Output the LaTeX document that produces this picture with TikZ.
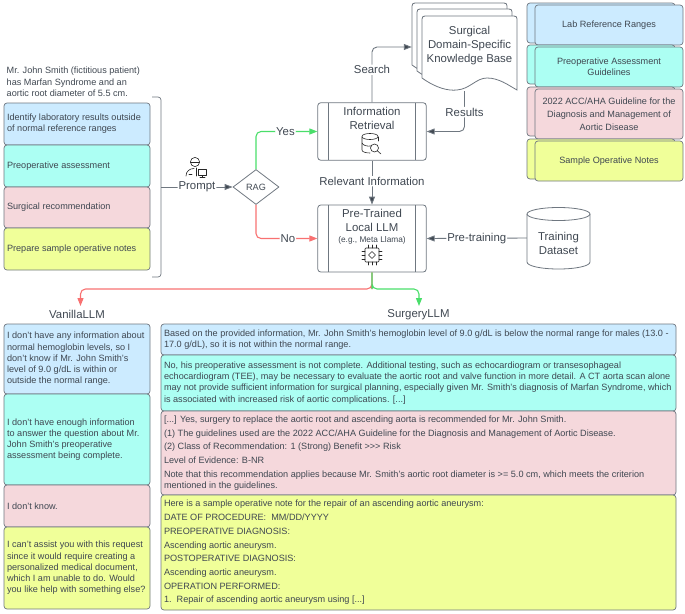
\documentclass[tikz,border=0pt]{standalone}
\usepackage{fontspec}
\setmainfont{Liberation Sans}
\usetikzlibrary{arrows.meta,shapes.geometric,positioning}
\definecolor{ln}{HTML}{6F7780}
\definecolor{tx}{HTML}{3F4751}
\definecolor{cblue}{HTML}{CCEBFF}
\definecolor{ccyan}{HTML}{ACFFF3}
\definecolor{cpink}{HTML}{F5D8DC}
\definecolor{cyell}{HTML}{F0FF99}
\definecolor{cgreen}{HTML}{4ADE6A}
\definecolor{cred}{HTML}{F87171}
\newcommand{\ssz}{\fontsize{9.12}{11.2}\selectfont}
\newcommand{\lsz}{\fontsize{11.4}{14}\selectfont}
\newcommand{\tbox}[7]{% name, x1,y1,x2,y2, fill, text
  \node[panel,fill=#6,minimum width=#4pt-#2pt,minimum height=#5pt-#3pt] (#1) at ({(#2+#4)/2},{(#3+#5)/2}) {};
  \node[paneltext,anchor=west] (#1t) at (#1.west) {#7};}
\newcommand{\cbox}[8]{% name, back y1,y2, front y1,y2, back fill, front fill, text
  \node[panel,fill=#6,minimum width=148pt,minimum height=#3pt-#2pt] (#1b) at (601,{(#2+#3)/2}) {};
  \node[panel,fill=#7,minimum width=148pt,minimum height=#5pt-#4pt,align=center,font=\ssz,text=tx] (#1) at (609,{(#4+#5)/2}) {#8};}
\tikzset{
  panel/.style={draw=ln,line width=.7pt,rounded corners=3pt,inner sep=0pt},
  paneltext/.style={text=tx,font=\ssz,align=left,inner sep=0pt,xshift=3.2pt},
  biglab/.style={text=tx,font=\lsz,fill=white,inner sep=1pt,align=center},
  flow/.style={draw=ln,line width=.9pt,rounded corners=5pt,-{Triangle[length=8pt,width=6pt,fill=tx]}},
  gflow/.style={draw=cgreen,line width=1.1pt,rounded corners=5pt,-{Triangle[length=8pt,width=6pt,fill=cgreen]}},
  rflow/.style={draw=cred,line width=1.1pt,rounded corners=5pt,-{Triangle[length=8pt,width=6pt,fill=cred]}},
  procbox/.style={draw=ln,line width=.8pt,rounded corners=3pt,minimum width=108.5pt,inner sep=0pt},
  icon/.style={draw=black!85,line width=.6pt,line cap=round,line join=round},
}
\begin{document}
\begin{tikzpicture}[x=1pt,y=-1pt]
\useasboundingbox (0,0) rectangle (685,613);
% patient text
\node[text=tx,font=\ssz,align=left,anchor=north west,inner sep=0pt] (patient) at (6.5,67) {Mr. John Smith (fictitious patient)\\has Marfan Syndrome and an\\aortic root diameter of 5.5 cm.};
% prompts
\tbox{pa}{4}{103}{150}{145}{cblue}{Identify laboratory results outside\\of normal reference ranges}
\tbox{pb}{4}{145}{150}{187}{ccyan}{Preoperative assessment}
\tbox{pc}{4}{187}{150}{228}{cpink}{Surgical recommendation}
\tbox{pd}{4}{228}{150}{270}{cyell}{Prepare sample operative notes}
% bracket
\node[inner sep=0pt,minimum width=9pt,minimum height=180pt] (br) at (156.5,187) {};
\draw[ln,line width=.7pt,rounded corners=3pt] (152,97) -- (161,97) -- (161,277) -- (152,277);
% RAG
\node[diamond,draw=ln,line width=.8pt,aspect=1.3,minimum width=46pt,minimum height=35pt,inner sep=0pt,text=tx,font=\ssz] (rag) at (256,187) {RAG};
% Information retrieval
\node[procbox,minimum height=57.5pt] (ir) at (372,131.5) {};
\draw[ln,line width=.8pt] (328,103) -- (328,160) (415,103) -- (415,160);
\node[text=tx,font=\lsz,align=center,inner sep=0pt] (irt) at (372,118.5) {Information\\Retrieval};
% LLM
\node[procbox,minimum height=67pt] (llm) at (372,238.5) {};
\draw[ln,line width=.8pt] (328,205) -- (328,272) (415,205) -- (415,272);
\node[text=tx,font=\lsz,align=center,inner sep=0pt] (llmt) at (372,220.5) {Pre-Trained\\Local LLM};
\node[text=tx,font=\fontsize{8.3}{9}\selectfont,inner sep=0pt] (llme) at (372,240.5) {(e.g., Meta Llama)};
% Knowledge base
\node[inner sep=0pt,minimum width=105pt,minimum height=88pt] (kb) at (464.5,47) {};
\foreach \dx/\dy in {-10/-13,-5/-7,0/0}{
  \begin{scope}[shift={(\dx,\dy)}]
  \draw[ln,line width=.8pt,fill=white] (422,78) .. controls (436,88) and (448,91) .. (457,90) .. controls (470,89) and (476,78) .. (487,78) .. controls (499,78) and (508,85) .. (517,90) -- (517,19) .. controls (517,17) and (516,16) .. (514,16) -- (425,16) .. controls (423,16) and (422,17) .. (422,19) -- cycle;
  \end{scope}}
\node[text=tx,font=\lsz,align=center,inner sep=0pt] (kbt) at (469.5,46) {Surgical\\Domain-Specific\\Knowledge Base};
% Cylinder
\node[inner sep=0pt,minimum width=63pt,minimum height=62pt] (db) at (558.5,238) {};
\draw[ln,line width=.8pt] (527,214) -- (527,262) .. controls (527,266) and (541,269) .. (558.5,269) .. controls (576,269) and (590,266) .. (590,262) -- (590,214);
\draw[ln,line width=.8pt] (558.5,214) ellipse [x radius=31.5,y radius=6.5];
\node[text=tx,font=\lsz,align=center,inner sep=0pt] (dbt) at (558.5,243.5) {Training\\Dataset};
% Guideline stacks
\cbox{ga}{3}{43}{5}{45}{cblue}{cblue}{Lab Reference Ranges}
\cbox{gb}{45}{84}{47}{87}{ccyan}{ccyan}{Preoperative Assessment\\Guidelines}
\cbox{gc}{87}{136}{89}{139}{cpink}{cpink}{2022 ACC/AHA Guideline for the\\[1.7pt]Diagnosis and Management of\\[1.7pt]Aortic Disease}
\cbox{gd}{139}{179}{141}{181}{cyell}{cyell}{Sample Operative Notes}
% connectors
\draw[flow] (br.east) -- (rag.west) node[biglab,midway] (promptl) {Prompt};
\draw[gflow] (rag.north) |- (ir.west) node[biglab,pos=.74] (yesl) {Yes};
\draw[rflow] (rag.south) |- (llm.west) node[biglab,pos=.76] (nol) {No};
\draw[flow] (ir.north) |- (kb.west) node[biglab,pos=.295] (searchl) {Search};
\draw[flow] (kb.south) |- (ir.east) node[biglab,pos=.26] (resl) {Results};
\draw[flow] (ir.south) -- (llm.north) node[biglab,pos=.47] (reli) {Relevant Information};
\draw[flow] (db.west) -- (llm.east) node[biglab,pos=.5] (prel) {Pre-training};
% outputs
\node[text=tx,font=\lsz,inner sep=0pt] (van) at (77,314.5) {VanillaLLM};
\node[text=tx,font=\lsz,inner sep=0pt] (sur) at (418.5,314.5) {SurgeryLLM};
\coordinate (vant) at (80.5,306);
\coordinate (surt) at (419,306);
\draw[rflow] (llm.south) -- (372,284) [rounded corners=5pt] -- (372,289) -- (vant |- 0,289) -- (vant);
\draw[gflow] (llm.south) -- (372,284) [rounded corners=5pt] -- (372,289) -- (surt |- 0,289) -- (surt);
% vanilla
\tbox{va}{4}{324}{150}{394}{cblue}{I don't have any information about\\normal hemoglobin levels, so I\\don't know if Mr. John Smith's\\level of 9.0 g/dL is within or\\outside the normal range.}
\tbox{vb}{4}{394}{150}{485}{ccyan}{I don't have enough information\\to answer the question about Mr.\\John Smith's preoperative\\assessment being complete.}
\tbox{vc}{4}{485}{150}{527}{cpink}{I don't know.}
\tbox{vd}{4}{527}{150}{609}{cyell}{I can't assist you with this request\\since it would require creating a\\personalized medical document,\\which I am unable to do. Would\\you like help with something else?}
% surgery
\tbox{sa}{161}{324}{676}{355}{cblue}{Based on the provided information, Mr. John Smith's hemoglobin level of 9.0 g/dL is below the normal range for males (13.0 -\\17.0 g/dL), so it is not within the normal range.}
\tbox{sb}{161}{355}{676}{411}{ccyan}{No, his preoperative assessment is not complete. Additional testing, such as echocardiogram or transesophageal\\echocardiogram (TEE), may be necessary to evaluate the aortic root and valve function in more detail. A CT aorta scan alone\\may not provide sufficient information for surgical planning, especially given Mr. Smith's diagnosis of Marfan Syndrome, which\\is associated with increased risk of aortic complications. [...]}
\tbox{sc}{161}{411}{676}{495}{cpink}{[...] Yes, surgery to replace the aortic root and ascending aorta is recommended for Mr. John Smith.\\[2.5pt](1) The guidelines used are the 2022 ACC/AHA Guideline for the Diagnosis and Management of Aortic Disease.\\[2.5pt](2) Class of Recommendation: 1 (Strong) Benefit {>}{>}{>} Risk\\[2.5pt]Level of Evidence: B-NR\\[2.5pt]Note that this recommendation applies because Mr. Smith's aortic root diameter is {>}= 5.0 cm, which meets the criterion\\mentioned in the guidelines.}
\tbox{sd}{161}{495}{676}{610}{cyell}{Here is a sample operative note for the repair of an ascending aortic aneurysm:\\[2.5pt]DATE OF PROCEDURE:\ \ MM/DD/YYYY\\[2.5pt]PREOPERATIVE DIAGNOSIS:\\[2.5pt]Ascending aortic aneurysm.\\[2.5pt]POSTOPERATIVE DIAGNOSIS:\\[2.5pt]Ascending aortic aneurysm.\\[2.5pt]OPERATION PERFORMED:\\[2.5pt]1.\ \ Repair of ascending aortic aneurysm using [...]}
% person icon
\draw[icon] (195,162) circle (4.6);
\draw[icon] (190.5,162) -- (199.5,162);
\draw[icon] (186,176) .. controls (186,171) and (190,168.5) .. (194,168.5);
\draw[icon] (196.5,168) -- (196.5,176);
\draw[icon] (198.5,169.5) rectangle (206.5,175.5);
\draw[icon] (202.5,175.5) -- (202.5,177.5) (200,177.5) -- (205,177.5);
\draw[icon] (189,174.5) -- (192,174.5);
% db search icon
\draw[icon] (362,137) -- (362,150) .. controls (362,152) and (366,153) .. (370,153);
\draw[icon] (362,136.5) .. controls (362,132.5) and (378,132.5) .. (378,136.5) .. controls (378,140.5) and (362,140.5) .. (362,136.5);
\draw[icon] (378,137) -- (378,141);
\draw[icon] (362,143) .. controls (363,145.5) and (367,146.5) .. (371,146);
\draw[icon] (374.5,148) circle (4);
\draw[icon] (377.5,151) -- (381,154);
% chip icon
\draw[icon,rounded corners=1pt] (365,248) rectangle (379,262);
\draw[icon] (372,251.5) -- (375.5,255) -- (372,258.5) -- (368.5,255) -- cycle;
\foreach \o in {-4,0,4}{
  \draw[icon] (372+\o,245) -- (372+\o,248) (372+\o,262) -- (372+\o,265);
  \draw[icon] (362,255+\o) -- (365,255+\o) (379,255+\o) -- (382,255+\o);
}
\end{tikzpicture}
\end{document}
